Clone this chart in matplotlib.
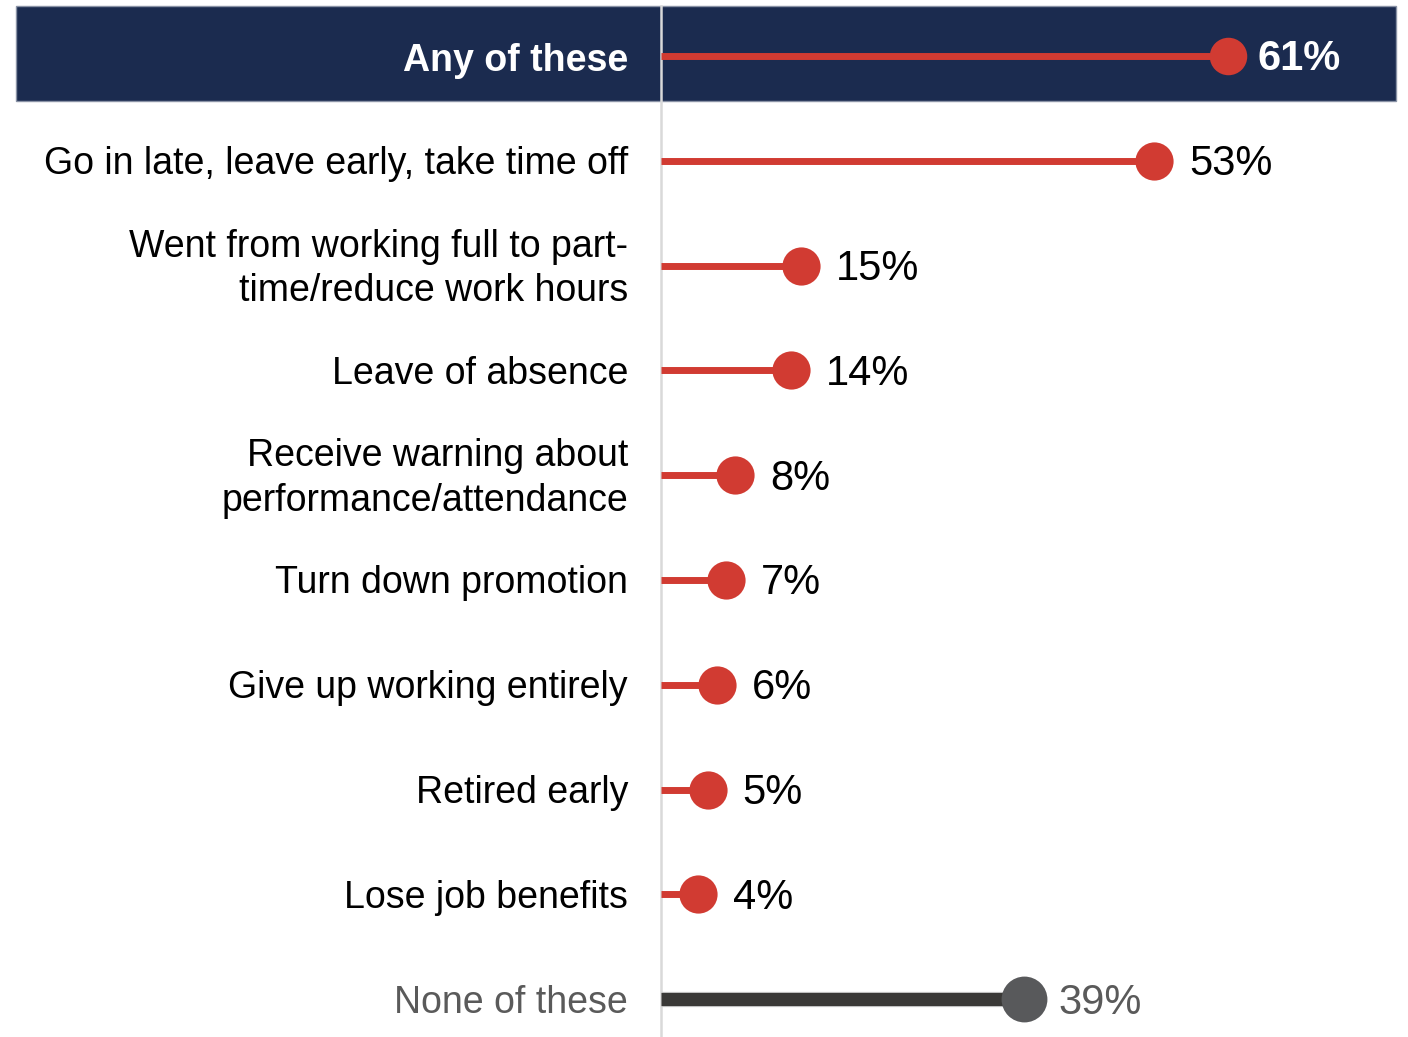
import matplotlib.pyplot as plt
from matplotlib.patches import Rectangle

######## DATA ########
header_label = "Any of these"
header_value = 61

labels = [
    "Go in late, leave early, take time off",
    "Went from working full to part-\ntime/reduce work hours",
    "Leave of absence",
    "Receive warning about\nperformance/attendance",
    "Turn down promotion",
    "Give up working entirely",
    "Retired early",
    "Lose job benefits",
]
values = [53, 15, 14, 8, 7, 6, 5, 4]

none_label = "None of these"
none_value = 39

######## STYLE ########
RED = "#d13b32"
NAVY = "#1b2b4f"
DARK = "#3a3937"
GRAY_DOT = "#58595b"
GRAY_TEXT = "#5a5a5a"
plt.rcParams["font.family"] = ["Liberation Sans", "DejaVu Sans"]

W, H = 1408, 1037
px_per_pct = 9.3
x0 = 661
row0, row_step = 56, 104.8

fig = plt.figure(figsize=(W / 100, H / 100), dpi=100)
ax = fig.add_axes([0, 0, 1, 1])
ax.set_xlim(-x0 / px_per_pct, (W - x0) / px_per_pct)
ax.set_ylim((H - row0) / row_step, -row0 / row_step)
ax.axis("off")

# text sits a few pixels below the line centre
dy = 3.5 / row_step

# header band
ax.add_patch(Rectangle(((16 - x0) / px_per_pct, (6 - row0) / row_step),
                       1380 / px_per_pct, 95 / row_step,
                       facecolor=NAVY, edgecolor="#8a93a6", lw=1, zorder=1))

# baseline
ax.axvline(0, ymin=0, ymax=1 - 6 / H, color="#d9d9d9", lw=1.8, zorder=2)

label_x = (628 - x0) / px_per_pct

# header row
ax.plot([0, header_value], [0, 0], color=RED, lw=5, solid_capstyle="butt", zorder=3)
ax.plot(header_value, 0, "o", color=RED, ms=27, mec="none", zorder=4)
ax.text(label_x, dy * 1.3, header_label, ha="right", va="center", fontsize=27,
        fontweight="bold", color="white", zorder=5)
ax.text(header_value + 29 / px_per_pct, dy, f"{header_value}%", ha="left", va="center",
        fontsize=30, fontweight="bold", color="white", zorder=5)

# item rows
for i, (lab, v) in enumerate(zip(labels, values), start=1):
    ax.plot([0, v], [i, i], color=RED, lw=5, solid_capstyle="butt", zorder=3)
    ax.plot(v, i, "o", color=RED, ms=27.5, mec="none", zorder=4)
    ax.text(label_x, i + dy, lab, ha="right", va="center", fontsize=27,
            color="black", linespacing=1.3)
    ax.text(v + 35 / px_per_pct, i + dy, f"{v}%", ha="left", va="center",
            fontsize=30, color="black")

# none row
n = len(labels) + 1
ax.plot([0, none_value], [n, n], color="#cfcfcf", lw=11, solid_capstyle="butt", zorder=3)
ax.plot([0, none_value], [n, n], color=DARK, lw=9.5, solid_capstyle="butt", zorder=3)
ax.plot(none_value, n, "o", color=GRAY_DOT, ms=33, mec="none", zorder=4)
ax.text(label_x, n + dy, none_label, ha="right", va="center", fontsize=27, color=GRAY_TEXT)
ax.text(none_value + 35 / px_per_pct, n + dy, f"{none_value}%", ha="left", va="center",
        fontsize=30, color=GRAY_TEXT)

fig.savefig("out.png", dpi=100, facecolor="white")
